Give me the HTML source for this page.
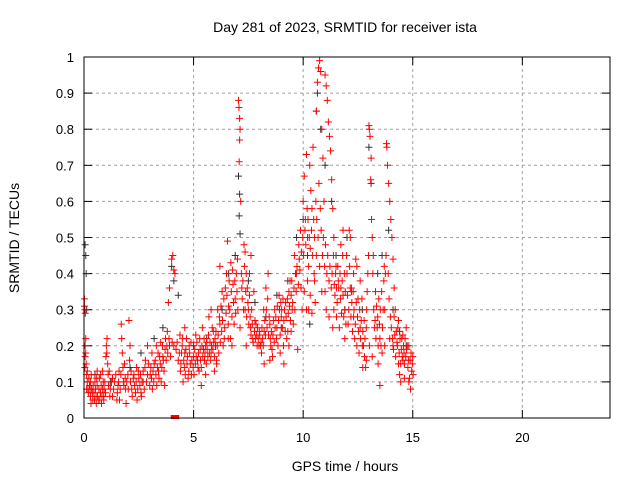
<!DOCTYPE html>
<html><head><meta charset="utf-8"><style>
html,body{margin:0;padding:0;background:#fff;}
svg{display:block;font-family:"Liberation Sans",sans-serif;}
</style></head><body>
<svg id="chart" width="640" height="480" viewBox="0 0 640 480">
<rect width="640" height="480" fill="#fff"/>
<text x="345" y="32" font-size="14" text-anchor="middle">Day 281 of 2023, SRMTID for receiver ista</text>
<text x="19" y="238" font-size="14" text-anchor="middle" transform="rotate(-90 19 238)">SRMTID / TECUs</text>
<text x="345" y="471" font-size="14" text-anchor="middle">GPS time / hours</text>
<g id="grid"></g>
<g id="ticks"></g>
<g id="black"></g>
<g id="red"></g>
<rect x="84" y="57" width="526" height="361" fill="none" stroke="#000" stroke-width="1"/>
</svg>
<script>
const xTicks=[0,5,10,15,20];
const yTicks=[0,0.1,0.2,0.3,0.4,0.5,0.6,0.7,0.8,0.9,1];
const yTickLabels=["0","0.1","0.2","0.3","0.4","0.5","0.6","0.7","0.8","0.9","1"];
const blackSeries=[[0.05,0.48],[0.08,0.45],[0.1,0.4],[0.12,0.3],[0.5,0.12],[1.2,0.1],[2.1,0.14],[2.6,0.18],[3.2,0.22],[3.6,0.25],[4.0,0.42],[4.1,0.38],[4.3,0.34],[5.0,0.2],[5.6,0.22],[6.3,0.3],[6.6,0.4],[7.05,0.67],[7.1,0.62],[7.08,0.56],[7.12,0.51],[7.5,0.38],[7.8,0.32],[8.3,0.28],[8.8,0.34],[9.3,0.38],[9.7,0.5],[10.0,0.55],[10.2,0.45],[10.3,0.26],[10.6,0.85],[10.65,0.9],[10.8,0.8],[11.0,0.7],[11.3,0.6],[11.5,0.45],[12.0,0.5],[12.2,0.35],[12.7,0.3],[13.0,0.75],[13.1,0.65],[13.4,0.4],[13.6,0.45],[13.9,0.52],[14.1,0.3],[14.4,0.24],[14.7,0.2],[6.9,0.45],[9.0,0.25],[11.9,0.3]];
const redSeries=[
[0.02,0.33],[0.04,0.3],[0.06,0.29],[0.05,0.2],[0.08,0.18],[0.1,0.15],[0.12,0.12],[0.15,0.1],[0.18,0.08],[0.2,0.07],[0.25,0.09],[0.3,0.06],[0.35,0.08],[0.4,0.05],[0.45,0.07],[0.5,0.1],[0.55,0.06],[0.6,0.09],[0.65,0.05],[0.7,0.11],[0.75,0.07],[0.8,0.04],[0.85,0.08],[0.9,0.06],[0.95,0.1],[1.0,0.17],[1.02,0.2],[1.05,0.22],[1.08,0.15],[1.1,0.12],[1.2,0.08],[1.3,0.06],[1.4,0.1],[1.5,0.05],[1.6,0.13],[1.7,0.26],[1.72,0.22],[1.75,0.18],[1.8,0.1],[1.9,0.08],[2.0,0.12],[2.05,0.27],[2.1,0.2],[2.2,0.06],[2.3,0.09],[2.4,0.14],[2.5,0.11],[2.6,0.07],[2.7,0.1],[2.8,0.16],[2.9,0.12],[3.0,0.09],[3.1,0.18],[3.2,0.15],[3.3,0.2],[3.4,0.13],[3.5,0.21],[3.6,0.17],[3.7,0.19],[3.8,0.24],[3.85,0.32],[3.9,0.36],[4.0,0.44],[4.05,0.45],[4.1,0.41],[4.15,0.4],[4.1,0.2],[4.2,0.19],[4.3,0.16],[4.4,0.13],[4.5,0.22],[4.6,0.18],[4.7,0.15],[4.8,0.2],[4.9,0.12],[5.0,0.17],[5.1,0.23],[5.2,0.14],[5.3,0.19],[5.4,0.25],[5.5,0.16],[5.6,0.21],[5.7,0.28],[5.8,0.18],[5.9,0.24],[6.0,0.2],[6.1,0.3],[6.2,0.26],[6.3,0.35],[6.4,0.22],[6.5,0.4],[6.55,0.49],[6.6,0.31],[6.7,0.43],[6.8,0.37],[6.9,0.33],[7.0,0.44],[7.05,0.88],[7.07,0.86],[7.1,0.83],[7.12,0.8],[7.1,0.77],[7.08,0.71],[7.15,0.6],[7.2,0.36],[7.3,0.48],[7.35,0.46],[7.4,0.4],[7.5,0.3],[7.6,0.25],[7.7,0.22],[7.8,0.27],[7.9,0.2],[8.0,0.24],[8.1,0.18],[8.2,0.3],[8.3,0.36],[8.4,0.4],[8.5,0.22],[8.6,0.17],[8.7,0.3],[8.8,0.25],[8.9,0.34],[9.0,0.28],[9.1,0.2],[9.2,0.32],[9.3,0.24],[9.4,0.38],[9.5,0.3],[9.6,0.45],[9.7,0.4],[9.8,0.48],[9.9,0.36],[10.0,0.6],[10.05,0.67],[10.1,0.55],[10.15,0.73],[10.2,0.5],[10.25,0.42],[10.3,0.7],[10.35,0.63],[10.4,0.58],[10.45,0.75],[10.5,0.4],[10.55,0.32],[10.6,0.85],[10.65,0.93],[10.7,0.97],[10.75,0.99],[10.8,0.96],[10.85,0.8],[10.9,0.72],[10.95,0.6],[11.0,0.95],[11.05,0.92],[11.1,0.88],[11.15,0.82],[11.2,0.78],[11.25,0.74],[11.3,0.66],[11.35,0.58],[11.4,0.5],[11.5,0.42],[11.6,0.38],[11.7,0.33],[11.8,0.45],[11.9,0.3],[12.0,0.4],[12.1,0.52],[12.2,0.36],[12.3,0.28],[12.4,0.44],[12.5,0.33],[12.6,0.25],[12.7,0.2],[12.8,0.17],[12.9,0.3],[13.0,0.81],[13.02,0.8],[13.05,0.78],[13.1,0.72],[13.08,0.66],[13.12,0.55],[13.15,0.5],[13.2,0.45],[13.3,0.35],[13.4,0.28],[13.5,0.22],[13.6,0.18],[13.7,0.42],[13.75,0.4],[13.8,0.76],[13.82,0.75],[13.85,0.7],[13.9,0.65],[13.95,0.6],[14.0,0.55],[14.05,0.5],[14.1,0.44],[14.15,0.36],[14.2,0.3],[14.25,0.24],[14.3,0.2],[14.35,0.15],[14.4,0.12],[14.5,0.22],[14.6,0.18],[14.7,0.25],[14.8,0.16],[14.85,0.11],[14.9,0.08],[14.95,0.13],[13.5,0.09],
[0.3,0.1],[0.6,0.13],[0.9,0.05],[1.3,0.11],[1.55,0.09],[2.25,0.11],[2.7,0.13],[3.05,0.14],[3.45,0.17],[3.9,0.2],[4.45,0.18],[4.85,0.15],[5.25,0.13],[5.65,0.17],[6.05,0.15],[6.35,0.2],[6.85,0.26],[7.4,0.2],[7.75,0.35],[8.05,0.2],[8.45,0.28],[8.85,0.2],[9.25,0.22],[9.55,0.26],[9.95,0.3],[10.2,0.38],[10.6,0.45],[11.0,0.35],[11.4,0.3],[11.9,0.22],[12.3,0.4],[12.6,0.38],[12.85,0.14],[13.25,0.25],[13.65,0.3],[14.1,0.2],[14.55,0.16],[14.75,0.2],[6.2,0.42],[5.8,0.3],[9.75,0.19],[12.05,0.26],[2.9,0.2],[1.85,0.15],[4.6,0.25],[0.85,0.13],[0.15,0.13],[0.05,0.17],[10.4,0.29],[11.65,0.25]
];
const redDense=[
[0.22,0.11],[0.28,0.08],[0.33,0.12],[0.38,0.07],[0.42,0.09],[0.48,0.05],[0.52,0.08],[0.58,0.11],[0.62,0.06],[0.68,0.08],[0.72,0.05],[0.78,0.09],[0.82,0.06],[0.88,0.1],[0.92,0.08],[0.98,0.07],[1.12,0.09],[1.18,0.06],[1.25,0.1],[1.35,0.08],[1.45,0.12],[1.52,0.07],[1.58,0.1],[1.65,0.08],[1.68,0.12],[1.78,0.14],[1.82,0.09],[1.88,0.11],[1.95,0.1],[2.02,0.08],[2.08,0.16],[2.12,0.1],[2.15,0.13],[2.18,0.08],[2.28,0.12],[2.35,0.07],[2.38,0.1],[2.45,0.08],[2.48,0.13],[2.55,0.09],[2.58,0.12],[2.65,0.1],[2.75,0.08],[2.78,0.14],[2.85,0.1],[2.95,0.15],[3.02,0.12],[3.08,0.11],[3.15,0.13],[3.18,0.1],[3.25,0.16],[3.28,0.12],[3.35,0.14],[3.38,0.18],[3.42,0.11],[3.48,0.15],[3.55,0.14],[3.58,0.2],[3.62,0.16],[3.65,0.13],[3.72,0.22],[3.75,0.16],[3.78,0.2],[3.82,0.18],[3.88,0.22],[3.95,0.17],[4.02,0.21],[4.25,0.21],[4.35,0.18],[4.38,0.23],[4.42,0.15],[4.48,0.2],[4.55,0.16],[4.58,0.14],[4.65,0.19],[4.68,0.22],[4.72,0.17],[4.78,0.13],[4.82,0.18],[4.88,0.21],[4.92,0.16],[4.98,0.14],[5.05,0.19],[5.08,0.15],[5.12,0.17],[5.15,0.21],[5.18,0.16],[5.22,0.18],[5.28,0.22],[5.32,0.16],[5.35,0.14],[5.38,0.2],[5.42,0.17],[5.45,0.19],[5.48,0.22],[5.52,0.18],[5.55,0.2],[5.58,0.15],[5.62,0.19],[5.68,0.23],[5.72,0.18],[5.75,0.21],[5.78,0.16],[5.82,0.2],[5.85,0.25],[5.88,0.19],[5.92,0.21],[5.95,0.17],[5.98,0.22],[6.02,0.24],[6.08,0.2],[6.12,0.23],[6.15,0.18],[6.18,0.28],[6.22,0.21],[6.25,0.31],[6.28,0.24],[6.32,0.27],[6.38,0.33],[6.42,0.25],[6.45,0.36],[6.48,0.29],[6.52,0.34],[6.58,0.26],[6.62,0.38],[6.65,0.3],[6.68,0.22],[6.72,0.35],[6.75,0.28],[6.78,0.41],[6.82,0.32],[6.88,0.38],[6.92,0.29],[6.95,0.4],[6.98,0.35],[7.02,0.3],[7.18,0.4],[7.22,0.33],[7.25,0.38],[7.28,0.3],[7.32,0.42],[7.38,0.35],[7.42,0.28],[7.45,0.36],[7.48,0.32],[7.52,0.26],[7.55,0.34],[7.58,0.28],[7.62,0.23],[7.65,0.3],[7.68,0.26],[7.72,0.21],[7.78,0.24],[7.82,0.22],[7.85,0.26],[7.88,0.23],[7.92,0.25],[7.95,0.22],[7.98,0.2],[8.02,0.23],[8.08,0.21],[8.12,0.25],[8.15,0.22],[8.18,0.2],[8.22,0.24],[8.25,0.27],[8.28,0.23],[8.32,0.3],[8.35,0.25],[8.38,0.33],[8.42,0.23],[8.48,0.26],[8.52,0.2],[8.55,0.24],[8.58,0.19],[8.62,0.23],[8.65,0.27],[8.68,0.21],[8.72,0.25],[8.75,0.28],[8.78,0.22],[8.82,0.31],[8.88,0.27],[8.92,0.3],[8.95,0.23],[8.98,0.32],[9.02,0.3],[9.05,0.25],[9.08,0.33],[9.12,0.27],[9.15,0.3],[9.18,0.24],[9.22,0.28],[9.28,0.33],[9.32,0.29],[9.35,0.35],[9.38,0.31],[9.42,0.27],[9.45,0.34],[9.48,0.38],[9.52,0.32],[9.58,0.36],[9.62,0.3],[9.65,0.4],[9.68,0.35],[9.72,0.42],[9.78,0.37],[9.82,0.44],[9.85,0.41],[9.88,0.52],[9.92,0.46],[9.98,0.5],[10.02,0.45],[10.08,0.52],[10.12,0.48],[10.18,0.58],[10.22,0.55],[10.28,0.5],[10.32,0.47],[10.38,0.52],[10.42,0.45],[10.48,0.55],[10.52,0.5],[10.58,0.6],[10.62,0.55],[10.68,0.5],[10.72,0.65],[10.78,0.58],[10.82,0.52],[10.88,0.45],[10.92,0.5],[10.98,0.42],[11.02,0.48],[11.08,0.4],[11.12,0.45],[11.18,0.38],[11.22,0.42],[11.28,0.36],[11.32,0.4],[11.38,0.45],[11.42,0.37],[11.45,0.34],[11.48,0.4],[11.52,0.36],[11.55,0.32],[11.58,0.42],[11.62,0.36],[11.68,0.4],[11.72,0.36],[11.75,0.29],[11.78,0.38],[11.82,0.34],[11.85,0.28],[11.88,0.4],[11.92,0.35],[11.95,0.26],[11.98,0.45],[12.02,0.34],[12.08,0.3],[12.12,0.42],[12.15,0.36],[12.18,0.28],[12.22,0.32],[12.25,0.24],[12.28,0.35],[12.32,0.3],[12.35,0.22],[12.38,0.26],[12.42,0.32],[12.45,0.2],[12.48,0.28],[12.52,0.24],[12.55,0.18],[12.58,0.3],[12.62,0.22],[12.65,0.27],[12.68,0.33],[12.72,0.24],[12.75,0.2],[12.78,0.27],[12.82,0.22],[12.88,0.25],[12.92,0.35],[12.95,0.4],[12.98,0.45],[13.18,0.4],[13.22,0.3],[13.28,0.27],[13.32,0.22],[13.35,0.31],[13.38,0.25],[13.42,0.2],[13.45,0.33],[13.48,0.26],[13.52,0.3],[13.55,0.2],[13.58,0.35],[13.62,0.25],[13.68,0.38],[13.72,0.3],[13.78,0.45],[13.88,0.4],[13.92,0.33],[13.98,0.28],[14.02,0.25],[14.08,0.22],[14.12,0.19],[14.18,0.23],[14.22,0.17],[14.28,0.21],[14.32,0.25],[14.38,0.18],[14.42,0.22],[14.45,0.15],[14.48,0.19],[14.52,0.17],[14.55,0.23],[14.58,0.2],[14.62,0.15],[14.65,0.22],[14.68,0.17],[14.72,0.19],[14.78,0.14],[14.82,0.2],[14.88,0.16],[14.92,0.18],[14.98,0.15],[15.02,0.12],[15.0,0.17],
[0.08,0.22],[0.12,0.08],[0.02,0.31],[0.04,0.14],[0.32,0.04],[0.56,0.04],[0.76,0.12],[1.04,0.18],[1.15,0.13],[1.62,0.05],[1.92,0.04],[2.42,0.05],[2.62,0.06],[3.12,0.08],[3.32,0.09],[3.52,0.1],[3.68,0.09],[4.52,0.1],[4.62,0.12],[4.75,0.11],[5.02,0.12],[5.35,0.09],[5.55,0.12],[5.95,0.13],[6.05,0.16],[6.58,0.22],[6.75,0.2],[7.12,0.25],[7.55,0.4],[7.62,0.45],[7.35,0.3],[8.22,0.15],[8.48,0.16],[8.95,0.18],[9.12,0.15],[9.35,0.2],[9.45,0.24],[10.05,0.35],[10.15,0.3],[10.25,0.3],[10.32,0.34],[10.52,0.38],[10.75,0.42],[10.85,0.35],[11.05,0.3],[11.18,0.28],[11.35,0.25],[11.52,0.28],[11.72,0.48],[11.82,0.52],[12.15,0.5],[12.45,0.42],[12.72,0.14],[12.88,0.16],[13.02,0.2],[13.15,0.17],[13.42,0.15],[13.72,0.2],[13.95,0.22],[14.15,0.28],[14.35,0.27],[14.45,0.1],[14.62,0.11],[14.82,0.1]
];
const zeroMarks=[4.05,4.15,4.25];
const NS="http://www.w3.org/2000/svg";
const X0=84,X1=610,Y0=418,Y1=57;
const xs=t=>X0+(t/24)*(X1-X0);
const ys=v=>Y0-v*(Y0-Y1);
function mk(tag,attrs,parent){const e=document.createElementNS(NS,tag);for(const k in attrs)e.setAttribute(k,attrs[k]);parent.appendChild(e);return e;}
const grid=document.getElementById('grid'),ticks=document.getElementById('ticks');
xTicks.forEach(t=>{const x=xs(t);
 if(t>0){const g=mk('line',{x1:x,x2:x,y1:Y1,y2:Y0,stroke:'#a0a0a0','stroke-dasharray':'3,3'},grid);
 
 }
 mk('line',{x1:x,x2:x,y1:Y0,y2:Y0-8,stroke:'#000'},ticks);
 mk('line',{x1:x,x2:x,y1:Y1,y2:Y1+8,stroke:'#000'},ticks);
 const l=mk('text',{x:x,y:Y0+24,'font-size':13,'text-anchor':'middle'},ticks);l.textContent=t;
 
 
});
yTicks.forEach((v,i)=>{const y=ys(v);
 if(v>0&&v<1){const g=mk('line',{x1:X0,x2:X1,y1:y,y2:y,stroke:'#a0a0a0','stroke-dasharray':'3,3'},grid);
 
 }
 mk('line',{x1:X0,x2:X0+8,y1:y,y2:y,stroke:'#000'},ticks);
 mk('line',{x1:X1,x2:X1-8,y1:y,y2:y,stroke:'#000'},ticks);
 const l=mk('text',{x:X0-10,y:y+5,'font-size':13,'text-anchor':'end'},ticks);l.textContent=yTickLabels[i];
 
 
});
function plus(g,t,v,col){const x=xs(t),y=ys(v);
 const p=mk('path',{d:`M${x-3.5},${y}h7M${x},${y-3.5}v7`,stroke:col,'stroke-width':1,fill:'none'},g);
 
 }
const bg=document.getElementById('black'),rg=document.getElementById('red');
blackSeries.forEach(p=>plus(bg,p[0],p[1],'#333'));
redSeries.forEach(p=>plus(rg,p[0],p[1],'#ff0000'));
redDense.forEach(p=>plus(rg,p[0],p[1],'#ff0000'));
zeroMarks.forEach(t=>{const r=mk('rect',{x:xs(t)-2,y:Y0-3,width:4,height:4,fill:'#ff0000'},rg);
 
 });
</script>
</body></html>
